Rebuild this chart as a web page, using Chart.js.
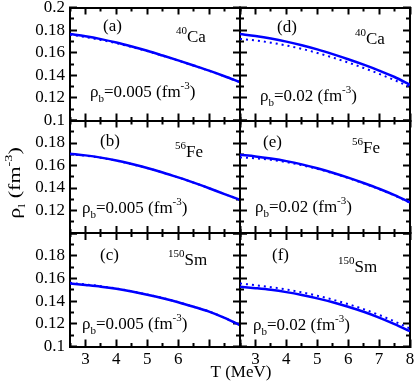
<!DOCTYPE html>
<html>
<head>
<meta charset="utf-8">
<script src="https://cdn.jsdelivr.net/npm/chart.js@4.4.1/dist/chart.umd.min.js"></script>
<style>
  html, body { margin: 0; padding: 0; background: #fff; }
  #wrap { position: relative; width: 415px; height: 382px; }
  #wrap canvas { position: absolute; left: 0; top: 0; }
  #probe { position: absolute; left: -999px; top: 0; font: 17px "Liberation Serif"; }
</style>
</head>
<body>
<div id="probe">Ca 0.18 ρ</div>
<div id="wrap"></div>
<script>
// temperature grid, MeV
var temps = [2.5, 3, 3.5, 4, 4.5, 5, 5.5, 6, 6.5, 7, 7.5, 8]

// rho_l (fm^-3), solid and dotted curves per panel
var caLowSolid = [0.1765, 0.1745, 0.1720, 0.1690, 0.1655, 0.1617, 0.1575, 0.1532, 0.1487, 0.1441, 0.1392, 0.1340]
var caLowDotted = [0.1760, 0.1738, 0.1713, 0.1684, 0.1651, 0.1614, 0.1573, 0.1530, 0.1486, 0.1440, 0.1391, 0.1340]
var caHighSolid = [0.1765, 0.1747, 0.1725, 0.1698, 0.1666, 0.1629, 0.1587, 0.1542, 0.1494, 0.1442, 0.1385, 0.1315]
var caHighDotted = [0.1722, 0.1708, 0.1689, 0.1664, 0.1634, 0.1598, 0.1557, 0.1513, 0.1465, 0.1413, 0.1357, 0.1297]
var feLowSolid = [0.1705, 0.1690, 0.1670, 0.1644, 0.1613, 0.1578, 0.1538, 0.1494, 0.1448, 0.1398, 0.1346, 0.1295]
var feLowDotted = [0.1701, 0.1687, 0.1668, 0.1643, 0.1612, 0.1577, 0.1538, 0.1494, 0.1448, 0.1398, 0.1346, 0.1295]
var feHighSolid = [0.1695, 0.1681, 0.1662, 0.1639, 0.1610, 0.1575, 0.1536, 0.1492, 0.1444, 0.1393, 0.1336, 0.1272]
var feHighDotted = [0.1672, 0.1664, 0.1650, 0.1630, 0.1603, 0.1570, 0.1532, 0.1489, 0.1441, 0.1390, 0.1333, 0.1268]
var smLowSolid = [0.1556, 0.1542, 0.1527, 0.1508, 0.1484, 0.1456, 0.1425, 0.1390, 0.1350, 0.1307, 0.1252, 0.1188]
var smLowDotted = [0.1561, 0.1547, 0.1531, 0.1511, 0.1487, 0.1458, 0.1427, 0.1391, 0.1351, 0.1308, 0.1253, 0.1189]
var smHighSolid = [0.1527, 0.1514, 0.1499, 0.1479, 0.1454, 0.1424, 0.1390, 0.1350, 0.1306, 0.1255, 0.1197, 0.1135]
var smHighDotted = [0.1556, 0.1540, 0.1523, 0.1502, 0.1477, 0.1447, 0.1413, 0.1373, 0.1329, 0.1278, 0.1221, 0.1158]

// tick labels
var xLabelsLeft = ['3', '4', '5', '6']
var xLabelsRight = ['3', '4', '5', '6', '7', '8']
var yLabelsTop = ['0.1', '0.12', '0.14', '0.16', '0.18', '0.2']
var yLabelsMid = ['0.12', '0.14', '0.16', '0.18']
var yLabelsBottom = ['0.1', '0.12', '0.14', '0.16', '0.18']

var W = 415, H = 382
var colEdges = [[70, 240], [240, 410]]
var rowEdges = [[7.5, 120.5], [120.5, 233], [233, 346.5]]
var serif = '"Liberation Serif", "Times New Roman", serif'
var blue = '#0000ff'

var panels = [
  { col: 0, row: 0, solid: caLowSolid, dotted: caLowDotted, yLabels: yLabelsTop, xLabels: null,
    tag: ['(a)', 103, 30.5], nucl: ['40', 'Ca', 176, 41.5], rho: ['0.005', 90, 97] },
  { col: 0, row: 1, solid: feLowSolid, dotted: feLowDotted, yLabels: yLabelsMid, xLabels: null,
    tag: ['(b)', 100, 146], nucl: ['56', 'Fe', 175, 156.5], rho: ['0.005', 82, 212.5] },
  { col: 0, row: 2, solid: smLowSolid, dotted: smLowDotted, yLabels: yLabelsBottom, xLabels: xLabelsLeft,
    tag: ['(c)', 100, 260], nucl: ['150', 'Sm', 168, 265], rho: ['0.005', 82, 329] },
  { col: 1, row: 0, solid: caHighSolid, dotted: caHighDotted, yLabels: null, xLabels: null,
    tag: ['(d)', 277, 31.5], nucl: ['40', 'Ca', 355, 44], rho: ['0.02', 260, 100.5] },
  { col: 1, row: 1, solid: feHighSolid, dotted: feHighDotted, yLabels: null, xLabels: null,
    tag: ['(e)', 263, 146.5], nucl: ['56', 'Fe', 352, 152.5], rho: ['0.02', 255, 211.5] },
  { col: 1, row: 2, solid: smHighSolid, dotted: smHighDotted, yLabels: null, xLabels: xLabelsRight,
    tag: ['(f)', 272, 260], nucl: ['150', 'Sm', 338, 271.5], rho: ['0.02', 253, 330] }
]

function fmt(v, d) {
  var m = Math.pow(10, d)
  return String(Math.round(v * m) / m)
}

// draws a run of normal / sub / sup pieces starting at x (baseline y)
function drawRich(ctx, parts, x, y) {
  var cx = x
  parts.forEach(function (p) {
    var small = p.sub || p.sup
    ctx.font = (small ? '11px ' : '17px ') + serif
    var dy = p.sub ? 5 : p.sup ? -8 : 0
    ctx.fillText(p.t, cx, y + dy)
    cx += ctx.measureText(p.t).width
  })
  return cx - x
}

function richWidth(ctx, parts) {
  var w = 0
  parts.forEach(function (p) {
    ctx.font = (p.sub || p.sup ? '11px ' : '17px ') + serif
    w += ctx.measureText(p.t).width
  })
  return w
}

function isMajorX(v) {
  return Math.abs(v - Math.round(v)) < 1e-6
}
function isMajorY(v) {
  return Math.round(v * 100) % 2 === 0
}

// tick marks point inward; minor ticks shortened with a dash pattern
function tickDash(major, fromBorder) {
  return function (ctx) {
    var v = ctx.tick ? ctx.tick.value : 0
    if (major(v)) return []
    return fromBorder ? [5, 60] : [0, 3, 5, 60]
  }
}

function xAxis(pos, size, labels, fromBorder) {
  return {
    type: 'linear',
    position: pos,
    min: 2.5,
    max: 8,
    ticks: {
      stepSize: 0.5,
      maxTicksLimit: 40,
      autoSkip: false,
      maxRotation: 0,
      display: !!labels,
      padding: 10,
      color: '#000',
      font: { family: serif, size: 17 },
      callback: function (v) {
        var s = fmt(v, 1)
        return labels && labels.indexOf(s) >= 0 ? s : ''
      },
    },
    grid: {
      drawOnChartArea: false,
      drawTicks: true,
      tickLength: -7,
      tickWidth: 2,
      tickColor: '#000',
      tickBorderDash: tickDash(isMajorX, fromBorder),
    },
    border: { display: true, color: '#000', width: 2 },
    afterFit: function (s) {
      s.height = size
      s.paddingLeft = 0
      s.paddingRight = 0
    },
  }
}

function yAxis(pos, size, labels, fromBorder) {
  return {
    type: 'linear',
    position: pos,
    min: 0.1,
    max: 0.2,
    ticks: {
      stepSize: 0.01,
      maxTicksLimit: 40,
      autoSkip: false,
      display: !!labels,
      padding: 12,
      color: '#000',
      font: { family: serif, size: 17 },
      callback: function (v) {
        var s = fmt(v, 2)
        return labels && labels.indexOf(s) >= 0 ? s : ''
      },
    },
    grid: {
      drawOnChartArea: false,
      drawTicks: true,
      tickLength: -7,
      tickWidth: 2,
      tickColor: '#000',
      tickBorderDash: tickDash(isMajorY, fromBorder),
    },
    border: { display: true, color: '#000', width: 2 },
    afterFit: function (s) {
      s.width = size
      s.paddingTop = 0
      s.paddingBottom = 0
    },
  }
}

var textPlugin = {
  id: 'panelText',
  afterDraw: function (chart) {
    var p = chart.config.options.plugins.panelText
    var ctx = chart.ctx
    ctx.save()
    ctx.fillStyle = '#000'
    ctx.textBaseline = 'alphabetic'
    ctx.textAlign = 'left'
    drawRich(ctx, [{ t: p.tag[0] }], p.tag[1], p.tag[2])
    drawRich(ctx, [{ t: p.nucl[0], sup: true }, { t: p.nucl[1] }], p.nucl[2], p.nucl[3])
    drawRich(ctx, [{ t: '\u03c1' }, { t: 'b', sub: true }, { t: '=' + p.rho[0] + ' (fm' }, { t: '-3', sup: true }, { t: ')' }], p.rho[1], p.rho[2])
    if (p.titles) {
      var xt = [{ t: 'T (MeV)' }]
      drawRich(ctx, xt, 241 - richWidth(ctx, xt) / 2, 377)
      // y title is drawn a bit stretched along its length, as in the original
      var yt = [{ t: '\u03c1' }, { t: 'l', sub: true }, { t: ' (fm' }, { t: '-3', sup: true }, { t: ')' }]
      ctx.translate(20, 183)
      ctx.rotate(-Math.PI / 2)
      ctx.scale(1.3, 1)
      drawRich(ctx, yt, -richWidth(ctx, yt) / 2, 0)
    }
    ctx.restore()
  },
}

function drawAll() {
  var wrap = document.getElementById('wrap')
  panels.forEach(function (p, i) {
    var cvs = document.createElement('canvas')
    cvs.width = W
    cvs.height = H
    wrap.appendChild(cvs)
    var c = colEdges[p.col], r = rowEdges[p.row]
    new Chart(cvs, {
      type: 'line',
      data: {
        labels: temps,
        datasets: [
          {
            data: temps.map(function (t, k) { return { x: t, y: p.solid[k] } }),
            borderColor: blue,
            borderWidth: 2.5,
            pointRadius: 0,
            cubicInterpolationMode: 'monotone',
            xAxisID: 'x',
            yAxisID: 'y',
          },
          {
            data: temps.map(function (t, k) { return { x: t, y: p.dotted[k] } }),
            borderColor: blue,
            borderWidth: 2,
            borderDash: [2, 4],
            pointRadius: 0,
            cubicInterpolationMode: 'monotone',
            xAxisID: 'x',
            yAxisID: 'y',
          },
        ],
      },
      options: {
        responsive: false,
        animation: false,
        devicePixelRatio: 1,
        layout: { padding: 0, autoPadding: false },
        plugins: {
          legend: { display: false },
          tooltip: { enabled: false },
          panelText: { tag: p.tag, nucl: p.nucl, rho: p.rho, titles: i === 0 },
        },
        scales: {
          x: xAxis('bottom', H - r[1], p.xLabels, true),
          xTop: xAxis('top', r[0], null, false),
          y: yAxis('left', c[0], p.yLabels, false),
          yRight: yAxis('right', W - c[1], null, true),
        },
      },
      plugins: [textPlugin],
    })
  })
}

if (document.fonts && document.fonts.load) {
  document.fonts.load('17px "Liberation Serif"').then(drawAll, drawAll)
} else {
  drawAll()
}
</script>
</body>
</html>
